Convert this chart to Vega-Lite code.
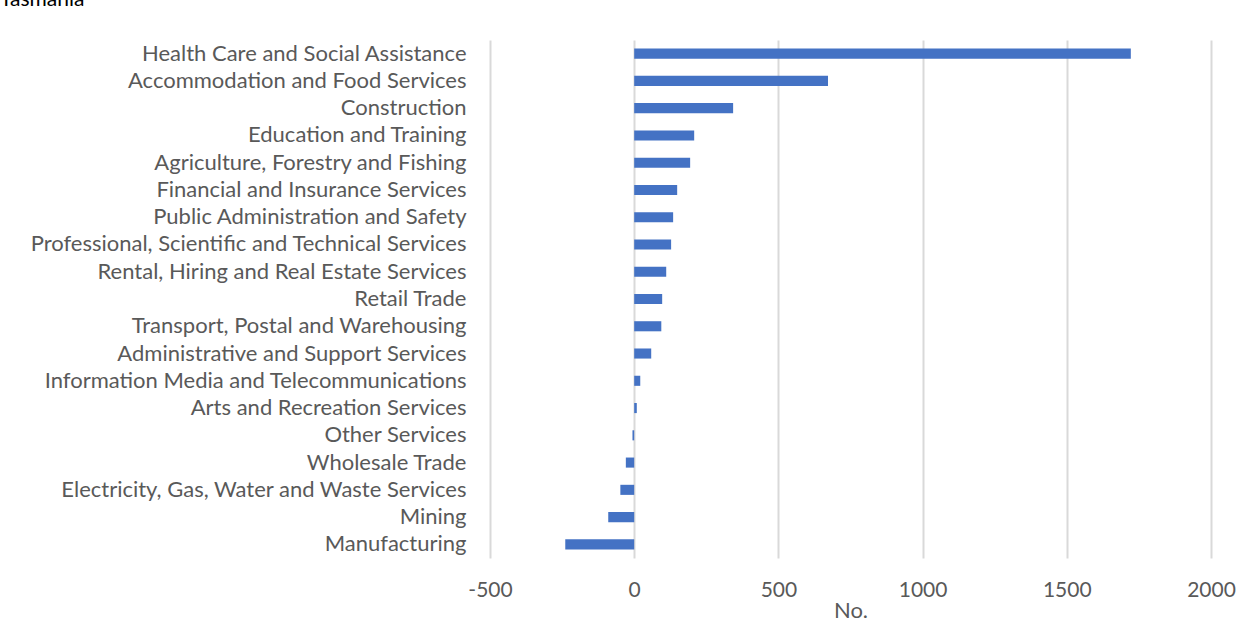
{
  "$schema": "https://vega.github.io/schema/vega-lite/v6.json",
  "autosize": {"type": "none"},
  "width": 721,
  "height": 518,
  "padding": {"left": 490, "top": 40, "right": 39, "bottom": 68},
  "background": "white",
  "title": {"text": "Tasmania", "anchor": "start", "frame": "group", "dx": -490, "offset": 26, "dy": 13, "baseline": "alphabetic", "font": "Lato", "fontSize": 21, "fontWeight": "normal", "color": "#000000"},
  "data": {"values": [
    {"industry": "Health Care and Social Assistance", "value": 1722},
    {"industry": "Accommodation and Food Services", "value": 672},
    {"industry": "Construction", "value": 343},
    {"industry": "Education and Training", "value": 208},
    {"industry": "Agriculture, Forestry and Fishing", "value": 194},
    {"industry": "Financial and Insurance Services", "value": 149},
    {"industry": "Public Administration and Safety", "value": 135},
    {"industry": "Professional, Scientific and Technical Services", "value": 128},
    {"industry": "Rental, Hiring and Real Estate Services", "value": 111},
    {"industry": "Retail Trade", "value": 97},
    {"industry": "Transport, Postal and Warehousing", "value": 94},
    {"industry": "Administrative and Support Services", "value": 59},
    {"industry": "Information Media and Telecommunications", "value": 21},
    {"industry": "Arts and Recreation Services", "value": 9},
    {"industry": "Other Services", "value": -6},
    {"industry": "Wholesale Trade", "value": -29},
    {"industry": "Electricity, Gas, Water and Waste Services", "value": -48},
    {"industry": "Mining", "value": -90},
    {"industry": "Manufacturing", "value": -239}
  ]},
  "mark": {"type": "bar", "color": "#4472C4"},
  "encoding": {
    "y": {"field": "industry", "type": "nominal", "sort": null,
      "scale": {"paddingInner": 0.63, "paddingOuter": 0.315},
      "axis": {"title": null, "ticks": false, "domain": false, "labelPadding": 24, "labelFont": "Lato", "labelFontSize": 22, "labelColor": "#595959", "labelLimit": 600}},
    "x": {"field": "value", "type": "quantitative",
      "scale": {"domain": [-500, 2000], "nice": false, "zero": false},
      "axis": {"values": [-500, 0, 500, 1000, 1500, 2000], "labelExpr": "datum.value + ''", "labelFlush": false, "title": "No.", "grid": true, "gridColor": "#d9d9d9", "gridWidth": 2, "ticks": false, "domain": false, "labelPadding": 21, "labelFont": "Lato", "labelFontSize": 21, "labelColor": "#595959", "titleFont": "Lato", "titleFontSize": 22, "titleFontWeight": "normal", "titleColor": "#595959", "titlePadding": 0}}
  },
  "config": {"view": {"stroke": null}}
}
